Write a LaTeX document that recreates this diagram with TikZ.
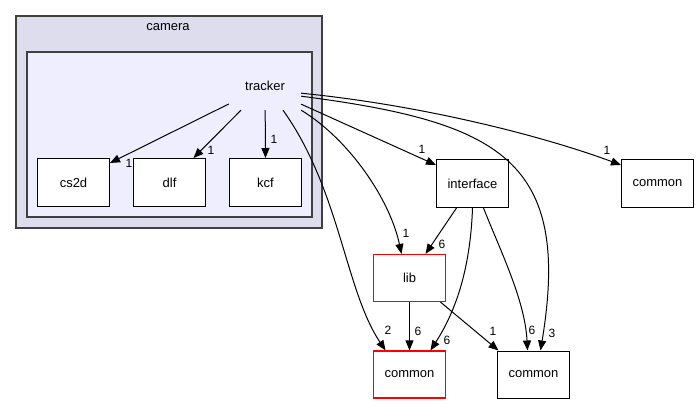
\documentclass[tikz,border=0pt]{standalone}
\usepackage{fontspec}
\setmainfont{Liberation Sans}
\usetikzlibrary{arrows.meta}
\definecolor{clusterout}{HTML}{DDDDEE}
\definecolor{clusterin}{HTML}{EEEEFF}
\definecolor{clusterline}{HTML}{404040}
\tikzset{
  dirbox/.style={draw=black, fill=white, line width=1pt, minimum width=72pt, minimum height=48pt,
                 inner sep=0pt, font=\fontsize{13}{15}\selectfont},
  redbox/.style={dirbox, draw=red, line width=1.2pt},
  dep/.style={line width=1pt, -{Triangle[length=10pt,width=8pt]}},
  lbl/.style={inner sep=0pt, font=\fontsize{12}{14}\selectfont},
  ttl/.style={inner sep=0pt, font=\fontsize{13}{15}\selectfont},
}
\begin{document}
\begin{tikzpicture}[x=1pt, y=-1pt]
  \useasboundingbox (0,0) rectangle (699,404);
  % directory clusters
  \draw[clusterline, fill=clusterout, line width=1.5pt] (16,16) rectangle (322,228);
  \node[ttl] (cameralbl) at (168,27) {camera};
  \draw[clusterline, fill=clusterin, line width=1.5pt] (27,52) rectangle (312,217);
  \node[ttl, minimum width=72pt, minimum height=48pt] (tracker) at (265,86) {tracker};

  % directories
  \node[dirbox] (cs2d) at (73.5,182.5) {cs2d};
  \node[dirbox] (dlf) at (169.5,182.5) {dlf};
  \node[dirbox] (kcf) at (265.5,182.5) {kcf};
  \node[dirbox] (interface) at (472.5,183.5) {interface};
  \node[dirbox] (commonR) at (657.5,183.5) {common};
  \node[redbox, minimum height=47pt] (lib) at (409.5,278) {lib};
  \node[redbox, minimum height=47pt] (commonRed) at (409.5,374.5) {common};
  \node[dirbox, minimum height=47pt] (commonB) at (533.5,374.5) {common};

  % dependencies of tracker
  \draw[dep] (tracker) -- ([yshift=-5pt]cs2d.north east);
  \draw[dep] (tracker) -- ([xshift=24pt]dlf.north);
  \draw[dep] (tracker) -- (kcf.north);
  \draw[dep] ([yshift=6pt]tracker.south east) -- ([yshift=-6pt]interface.north west);
  \draw[dep] ([yshift=17pt]tracker.south east) .. controls (420,105) and (540,135) .. ([yshift=-6pt]commonR.north west);
  \draw[dep] ([yshift=14pt]tracker.south east) .. controls (500,122) and (572,160) .. ([xshift=7pt]commonB.north);
  \draw[dep] (tracker.south east) .. controls (350,140) and (390,200) .. ([xshift=-8pt]lib.north);
  \draw[dep] ([xshift=18pt]tracker.south) .. controls (340,190) and (345,290) .. ([xshift=-24pt]commonRed.north);

  % dependencies of interface and lib
  \draw[dep] ([xshift=-16pt]interface.south) -- ([xshift=16pt]lib.north);
  \draw[dep] (interface.south) .. controls (470,280) and (450,320) .. ([xshift=21pt]commonRed.north);
  \draw[dep] ([xshift=11pt]interface.south) .. controls (500,250) and (525,300) .. ([xshift=-6pt]commonB.north);
  \draw[dep] (lib.south) -- (commonRed.north);
  \draw[dep] ([xshift=31pt]lib.south) -- ([xshift=-35pt]commonB.north);

  % dependency counts
  \node[lbl] (n1) at (129,163) {1};
  \node[lbl] (n2) at (211,150) {1};
  \node[lbl] (n3) at (274,139) {1};
  \node[lbl] (n4) at (422,149) {1};
  \node[lbl] (n5) at (607,150) {1};
  \node[lbl] (n6) at (406,233) {1};
  \node[lbl] (n7) at (442,244) {6};
  \node[lbl] (n8) at (388,330) {2};
  \node[lbl] (n9) at (418,331) {6};
  \node[lbl] (n10) at (447,340) {6};
  \node[lbl] (n11) at (493,331) {1};
  \node[lbl] (n12) at (532,330) {6};
  \node[lbl] (n13) at (552,333) {3};
\end{tikzpicture}
\end{document}
